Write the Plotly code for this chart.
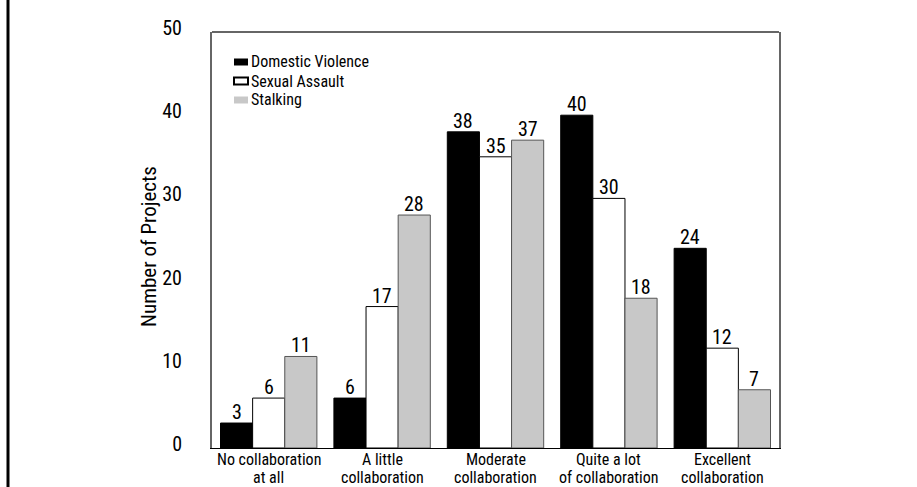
import plotly.graph_objects as go

categories = ["No collaboration at all", "A little collaboration", "Moderate collaboration",
              "Quite a lot of collaboration", "Excellent collaboration"]
label_line1 = ["No collaboration", "A little", "Moderate", "Quite a lot", "Excellent"]
label_line2 = ["at all", "collaboration", "collaboration", "of collaboration", "collaboration"]
domestic_violence = [3, 6, 38, 40, 24]
sexual_assault = [6, 17, 35, 30, 12]
stalking = [11, 28, 37, 18, 7]
series_names = ["Domestic Violence", "Sexual Assault", "Stalking"]
y_ticks = [0, 10, 20, 30, 40, 50]
y_title = "Number of Projects"

FONT = "Liberation Sans Narrow, Arial Narrow, Roboto Condensed, DejaVu Sans Condensed, sans-serif"

L, R, T, B = 212, 138, 32, 39
W, H = 917, 487
PW, PH = W - L - R, H - T - B
BARGAP = 0.15
BAR_PX = PW / len(categories) * (1 - BARGAP) / 3


def px_x(px):
    return (px - L) / PW


def px_y(py):
    return (H - B - py) / PH


fills = ["#000000", "#ffffff", "#c8c8c8"]
edges = ["#000000", "#000000", "#555555"]
values = [domestic_violence, sexual_assault, stalking]

fig = go.Figure()
annotations = []
for i, (name, vals, fill, edge) in enumerate(zip(series_names, values, fills, edges)):
    fig.add_trace(go.Bar(
        name=name, x=categories, y=vals,
        marker=dict(color=fill, line=dict(color=edge, width=1)),
        showlegend=False,
    ))
    for cat, v in zip(categories, vals):
        annotations.append(dict(x=cat, xref="x", y=v, yref="y", text=str(v), showarrow=False,
                                xanchor="center", yanchor="bottom",
                                xshift=(i - 1) * BAR_PX, yshift=-3,
                                font=dict(family=FONT, size=20, color="#000")))

for cat, l1, l2 in zip(categories, label_line1, label_line2):
    annotations.append(dict(x=cat, xref="x", y=px_y(460), yref="paper", text=l1, showarrow=False,
                            xanchor="center", yanchor="middle",
                            font=dict(family=FONT, size=16, color="#000")))
    annotations.append(dict(x=cat, xref="x", y=px_y(477), yref="paper", text=l2, showarrow=False,
                            xanchor="center", yanchor="middle",
                            font=dict(family=FONT, size=16, color="#000")))

# y-axis title
annotations.append(dict(x=px_x(149), xref="paper", y=px_y(247), yref="paper", text=y_title,
                        showarrow=False, textangle=-90, xanchor="center", yanchor="middle",
                        font=dict(family=FONT, size=21, color="#000")))

shapes = [
    dict(type="line", xref="paper", yref="paper", x0=0, x1=1, y0=1, y1=1,
         line=dict(color="#666666", width=2)),
    dict(type="line", xref="paper", yref="paper", x0=px_x(8), x1=px_x(8), y0=-0.2, y1=1.2,
         line=dict(color="#000000", width=3)),
]

# manual legend
leg_y = [62, 81, 100]
sw_fill = ["#000000", "#ffffff", "#c8c8c8"]
sw_line = [dict(color="#000000", width=0), dict(color="#000000", width=2), dict(color="#c8c8c8", width=0)]
for name, yy, f, ln in zip(series_names, leg_y, sw_fill, sw_line):
    shapes.append(dict(type="rect", xref="paper", yref="paper",
                       x0=px_x(234), x1=px_x(248), y0=px_y(yy + 3.5), y1=px_y(yy - 3.5),
                       fillcolor=f, line=ln))
    annotations.append(dict(x=px_x(249), xref="paper", y=px_y(yy), yref="paper", text=name,
                            showarrow=False, xanchor="left", yanchor="middle",
                            font=dict(family=FONT, size=16, color="#000")))

fig.update_layout(
    width=W, height=H,
    margin=dict(l=L, r=R, t=T, b=B, autoexpand=False),
    paper_bgcolor="white", plot_bgcolor="white",
    barmode="group", bargap=BARGAP, bargroupgap=0,
    font=dict(family=FONT, color="#000"),
    showlegend=False,
    xaxis=dict(showline=True, linecolor="#000", linewidth=1, showgrid=False,
               ticks="", showticklabels=False, automargin=False),
    yaxis=dict(range=[0, 50], tickvals=y_ticks, showgrid=False, zeroline=False,
               showline=True, linecolor="#666666", linewidth=2, mirror=True,
               ticks="", tickfont=dict(family=FONT, size=20, color="#000"),
               ticklabelshift=-4, ticklabelstandoff=24, automargin=False),
    shapes=shapes,
    annotations=annotations,
)

fig.write_html("out.html")
